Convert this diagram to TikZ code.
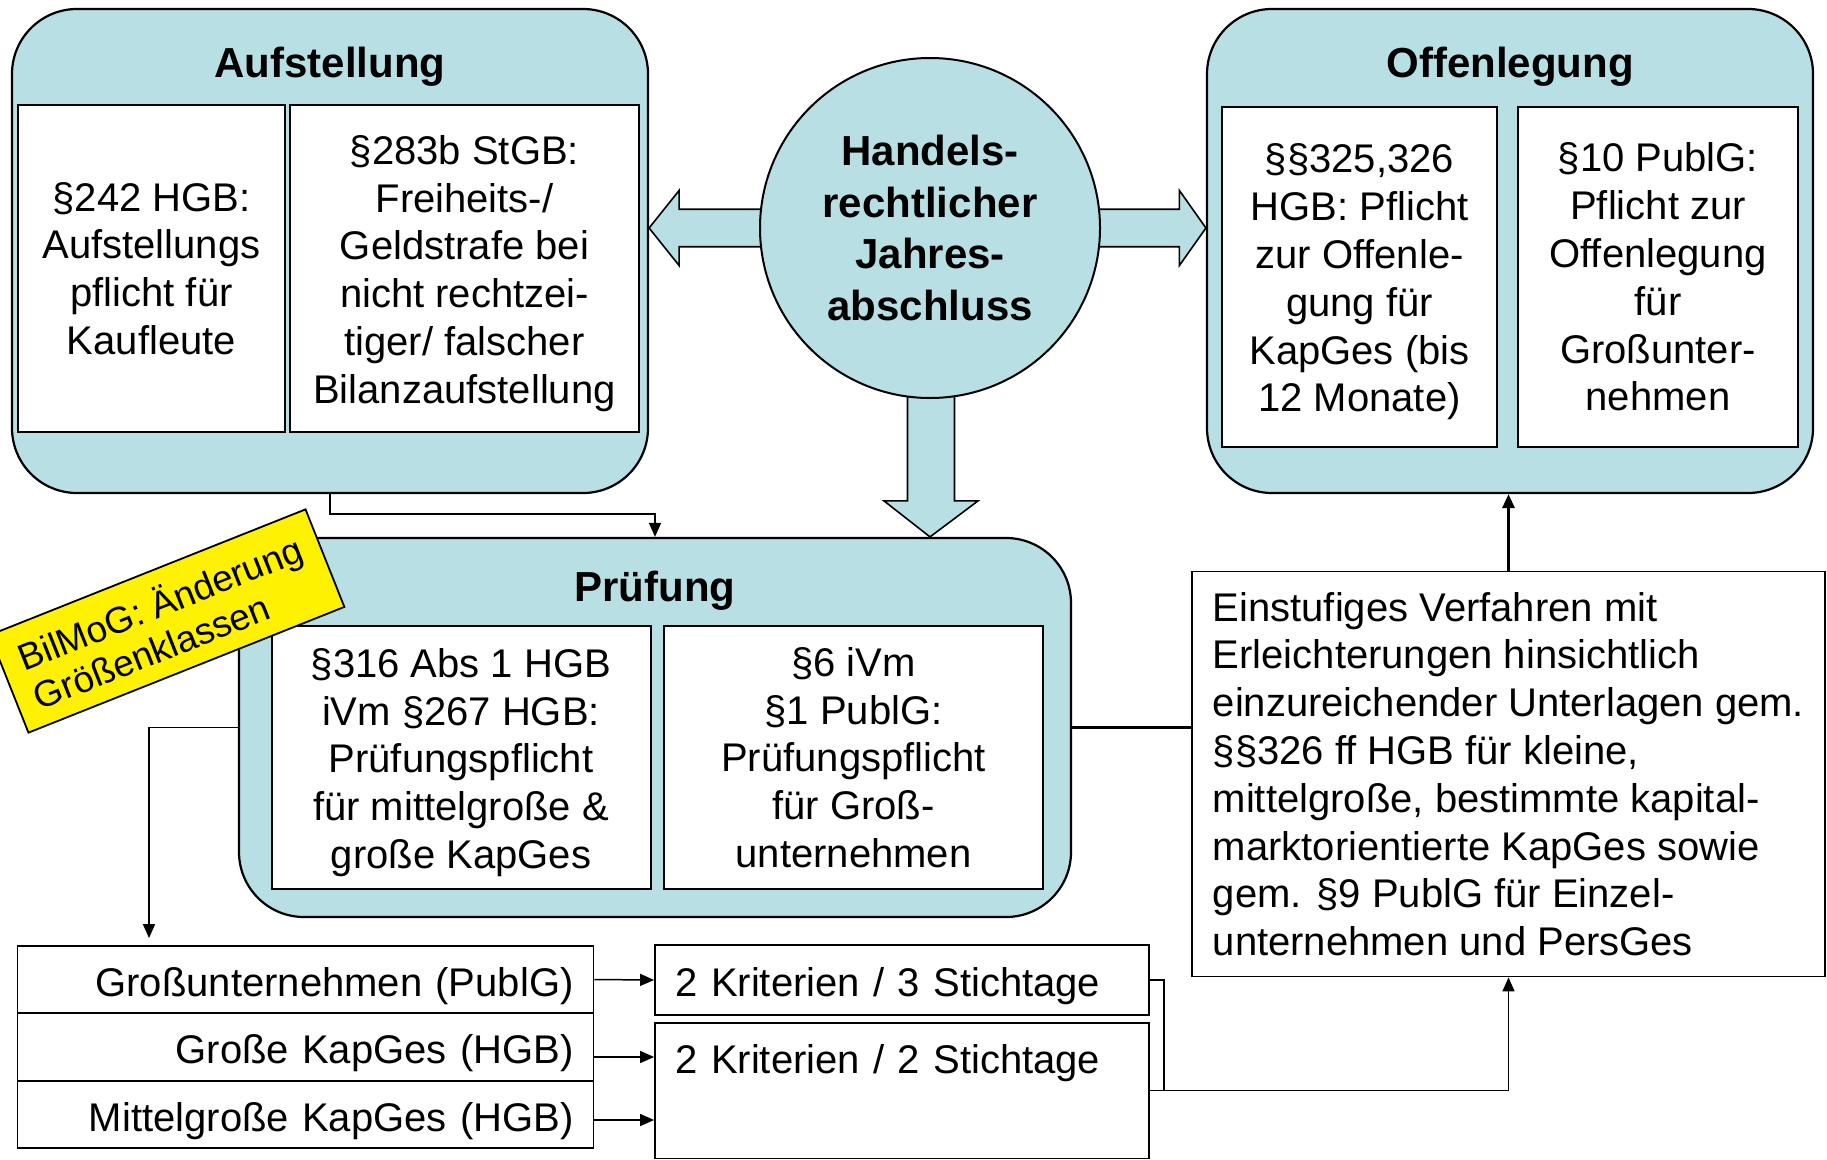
\documentclass[tikz,border=0pt]{standalone}
\usepackage{fontspec}
\setmainfont{Liberation Sans}
\usetikzlibrary{arrows.meta,calc}
\pgfdeclarelayer{back}
\pgfsetlayers{back,main}
\definecolor{boxblue}{RGB}{184,223,227}
\newcommand\fnreg{\fontsize{40}{47.8}\selectfont}
\newcommand\fnttl{\fontsize{42}{50}\selectfont\bfseries}
\newcommand\fncirc{\fontsize{42}{51.6}\selectfont\bfseries}
\newcommand\fnyel{\fontsize{37}{42}\selectfont}
\newcommand\tallstrut{\rule{0pt}{39pt}}
\begin{document}
\begin{tikzpicture}[x=1pt,y=-1pt,
  outerbox/.style={draw, line width=2.2pt, fill=boxblue, rounded corners=65pt, inner sep=0pt},
  innerbox/.style={draw, line width=2pt, fill=white, inner sep=0pt, align=center, font=\fnreg},
  ttl/.style={font=\fnttl, anchor=base, inner sep=0pt},
  blockarrow/.style={draw, line width=1.6pt, fill=boxblue, line join=miter},
  plainbox/.style={draw, line width=1.8pt, fill=white, font=\fnreg},
  rowbox/.style={plainbox, text width=536pt, align=right, inner xsep=20pt, inner ysep=0pt, text height=40pt, text depth=6.4pt},
  thinline/.style={draw, line width=1.5pt},
  thinarrow/.style={thinline, -{Triangle[length=14pt,width=12pt]}},
  thickline/.style={draw, line width=3.5pt},
]
\useasboundingbox (0,0) rectangle (1827,1159);

% outer rounded boxes
\node[outerbox, minimum width=636pt, minimum height=484pt] (auf) at (330,251) {};
\node[outerbox, minimum width=606pt, minimum height=484pt] (off) at (1510,251) {};
\node[outerbox, minimum width=832pt, minimum height=379pt] (pruef) at (655,727.5) {};

% titles
\node[ttl] (aufT) at (330,77) {Aufstellung};
\node[ttl] (offT) at (1510,77) {Offenlegung};
\node[ttl] (pruefT) at (655,601) {Prüfung};

% inner boxes
\node[innerbox, minimum width=267pt, minimum height=327pt] (a1) at (151.5,268.5) {§242 HGB:\\Aufstellungs\\pflicht für\\Kaufleute};
\node[innerbox, minimum width=349pt, minimum height=327pt] (a2) at (464.5,268.5) {\tallstrut§283b StGB:\\Freiheits-/\\Geldstrafe bei\\nicht rechtzei-\\tiger/ falscher\\Bilanzaufstellung};
\node[innerbox, minimum width=275pt, minimum height=340pt] (o1) at (1359.5,277) {\tallstrut§§325,326\\HGB: Pflicht\\zur Offenle-\\gung für\\KapGes (bis\\12 Monate)};
\node[innerbox, minimum width=280pt, minimum height=340pt] (o2) at (1658,277) {§10 PublG:\\Pflicht zur\\Offenlegung\\für\\Großunter-\\nehmen};
\node[innerbox, minimum width=379pt, minimum height=263pt] (p1) at (461,757.5) {\tallstrut§316 Abs 1 HGB\\iVm §267 HGB:\\Prüfungspflicht\\für mittelgroße \&\\große KapGes};
\node[innerbox, minimum width=379pt, minimum height=263pt] (p2) at (853.5,757.5) {§6 iVm\\§1 PublG:\\Prüfungspflicht\\für Groß-\\unternehmen};

% central circle
\node[circle, draw, line width=2pt, fill=boxblue, minimum size=340pt, inner sep=0pt, align=center, font=\fncirc] (circ) at (930,228) {Handels-\\rechtlicher\\Jahres-\\abschluss};

% block arrows (behind circle)
\begin{pgfonlayer}{back}
\coordinate (lt) at (auf.east |- circ.center);
\path[blockarrow] (lt) -- ++(30,-37.5) -- ++(0,18.75) -- ++(100,0) -- ++(0,37.5) -- ++(-100,0) -- ++(0,18.75) -- cycle;
\coordinate (rt) at (off.west |- circ.center);
\path[blockarrow] (rt) -- ++(-26.5,-37.5) -- ++(0,18.75) -- ++(-110,0) -- ++(0,37.5) -- ++(110,0) -- ++(0,18.75) -- cycle;
\coordinate (dt) at (pruef.north -| circ.center);
\path[blockarrow] (dt) -- ++(-46,-36) -- ++(23.5,0) -- ++(0,-130) -- ++(47,0) -- ++(0,130) -- ++(23.5,0) -- cycle;
\end{pgfonlayer}

% right text box
\node[plainbox, minimum width=633pt, minimum height=405pt, align=left, inner sep=0pt] (einst) at (1508.5,774) {Einstufiges Verfahren mit\\Erleichterungen hinsichtlich\\einzureichender Unterlagen gem.\\§§326 ff HGB für kleine,\\mittelgroße, bestimmte kapital-\\marktorientierte KapGes sowie\\gem. §9 PublG für Einzel-\\unternehmen und PersGes};

% bottom stack
\node[rowbox, minimum height=67pt] (r1) at (305.5,979.5) {Großunternehmen (PublG)};
\node[rowbox, minimum height=68pt] (r2) at (305.5,1047) {Große KapGes (HGB)};
\node[rowbox, minimum height=67pt] (r3) at (305.5,1114.5) {Mittelgroße KapGes (HGB)};

% criteria boxes
\node[plainbox, text width=453pt, align=left, inner xsep=20.5pt, inner ysep=0pt, text height=51pt, text depth=19pt] (c1) at (902,980) {2 Kriterien / 3 Stichtage};
\node[plainbox, text width=453pt, align=left, inner xsep=20.5pt, inner ysep=0pt, text height=51pt, text depth=84.5pt, anchor=north] (c2) at (902,1022) {2 Kriterien / 2 Stichtage};

% connectors
\draw[thinarrow] (auf.south) -- ++(0,20) -| (pruef.north);
\draw[thinarrow, shorten >=7pt] (pruef.west) -| ([xshift=-156.5pt]r1.north);
\draw[thickline] (pruef.east) -- (pruef.east -| einst.west);
\draw[draw, line width=3pt, -{Triangle[length=14pt,width=12pt]}] (einst.north) -- (einst.north |- off.south);
\draw[thinarrow] (r1.east) -- (c1.west);
\draw[thinarrow] ([yshift=-10pt]r2.east) -- ([yshift=-10pt]r2.east -| c2.west);
\draw[thinarrow] ([yshift=-5.5pt]r3.east) -- ([yshift=-5.5pt]r3.east -| c2.west);
\coordinate (jn) at (1164,1089.75);
\draw[thinline] (c1.east) -| (jn);
\draw[thinarrow] (c2.east) -| (einst.south);

% yellow note
\node[draw, line width=1.8pt, fill=yellow, rotate=21.7, minimum width=340pt, minimum height=105pt, align=left, font=\fnyel, inner sep=0pt] (bil) at (167,621) {BilMoG: Änderung\\Größenklassen};
\end{tikzpicture}
\end{document}
